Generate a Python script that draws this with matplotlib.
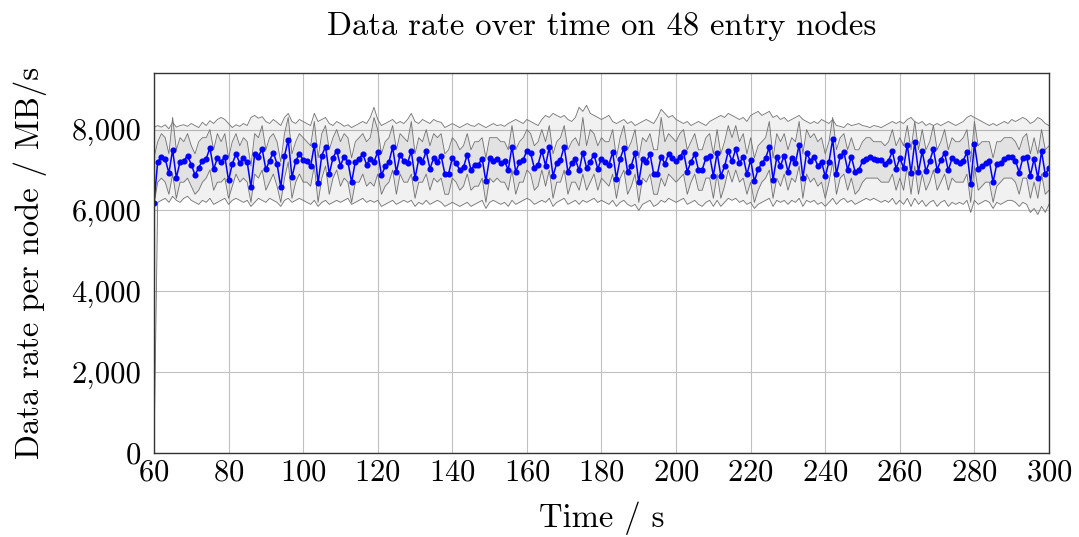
import numpy as np
import matplotlib
matplotlib.use("Agg")
import matplotlib.pyplot as plt
from matplotlib.ticker import FuncFormatter, MultipleLocator

plt.rcParams['font.family'] = 'serif'
plt.rcParams['font.serif'] = ['cmr10']
plt.rcParams['mathtext.fontset'] = 'cm'
plt.rcParams['axes.formatter.use_mathtext'] = True

# Zeitachse (eine Messung pro Sekunde)
t_start, t_end = 60, 300

# Mittlere Datenrate pro Knoten (MB/s)
mean_rate = [
    6180, 7210, 7317, 7276, 6922, 7498, 6807, 7210, 7235, 7350,
    7136, 6881, 7054, 7235, 7276, 7547, 7021, 7292, 7202, 7333,
    6741, 7152, 7399, 7169, 7300, 7194, 6576, 7399, 7333, 7523,
    7013, 7235, 7432, 7152, 6576, 7350, 7745, 6823, 7218, 7399,
    7251, 7218, 7087, 7622, 6675, 7358, 7580, 6905, 7300, 7482,
    7111, 7333, 7202, 6700, 7210, 7276, 7399, 7136, 7276, 7194,
    7457, 6872, 7087, 7194, 7564, 6947, 7383, 7218, 7177, 7465,
    6799, 7268, 7194, 7465, 7029, 7300, 7210, 7350, 6905, 6905,
    7300, 7169, 7004, 7070, 7383, 7004, 7136, 7136, 7284, 6724,
    7300, 7235, 7276, 7185, 7218, 7004, 7580, 6955, 7194, 7251,
    7482, 7416, 7045, 7136, 7482, 7111, 7564, 6856, 7169, 7251,
    7580, 6947, 7169, 7268, 6988, 7432, 7054, 7210, 7383, 7029,
    7284, 7194, 7136, 7440, 6782, 7276, 7547, 6955, 7111, 7416,
    6700, 7276, 7194, 7399, 6905, 6905, 7333, 7152, 7399, 7300,
    7218, 7333, 7449, 6963, 7202, 7399, 7004, 7004, 7300, 7358,
    6856, 7424, 6856, 7087, 7465, 7218, 7523, 7169, 7333, 6889,
    7251, 6716, 7021, 7169, 7292, 7564, 6757, 7317, 7103, 7358,
    6963, 7300, 7169, 7630, 6807, 7424, 7235, 7333, 7103, 7202,
    6840, 7202, 7761, 6889, 7341, 7440, 7004, 7333, 6955, 7004,
    7218, 7276, 7317, 7276, 7251, 7251, 7152, 7235, 7465, 7037,
    7292, 7054, 7630, 6922, 7687, 6955, 7465, 6971, 7218, 7515,
    7004, 7251, 7424, 6988, 7292, 7235, 7169, 7235, 7440, 6659,
    7646, 7021, 7111, 7169, 7218, 6700, 7152, 7169, 7276, 7317,
    7317, 7235, 6938, 7300, 7333, 6864, 7276, 6807, 7465, 6889,
    7054,
]

# Maximum ueber alle Knoten
max_rate = [
    8050, 8100, 8060, 8120, 8020, 8180, 8060, 8100, 8120, 8080,
    8150, 8100, 8050, 8180, 8100, 8220, 8150, 8250, 8300, 8250,
    8150, 8050, 8120, 8080, 8150, 8100, 8300, 8350, 8280, 8320,
    8200, 8150, 8250, 8180, 8100, 8300, 8400, 8200, 8150, 8250,
    8200, 8150, 8100, 8400, 8200, 8250, 8300, 8150, 8100, 8200,
    8150, 8080, 8120, 8050, 8100, 8150, 8200, 8150, 8300, 8550,
    8250, 8100, 8150, 8200, 8250, 8150, 8200, 8150, 8250, 8400,
    8200, 8150, 8250, 8200, 8150, 8250, 8200, 8180, 8050, 8100,
    8150, 8100, 8050, 8100, 8150, 8100, 8080, 8150, 8100, 8050,
    8100, 8150, 8100, 8120, 8080, 8150, 8200, 8250, 8200, 8150,
    8250, 8200, 8150, 8100, 8250, 8350, 8300, 8400, 8350, 8300,
    8350, 8250, 8200, 8300, 8550, 8450, 8600, 8400, 8350, 8300,
    8250, 8300, 8350, 8200, 8150, 8200, 8250, 8150, 8200, 8100,
    8150, 8200, 8250, 8200, 8150, 8300, 8500, 8400, 8300, 8350,
    8250, 8200, 8150, 8200, 8100, 8150, 8200, 8150, 8100, 8200,
    8250, 8300, 8350, 8300, 8400, 8350, 8300, 8250, 8300, 8200,
    8350, 8400, 8450, 8350, 8400, 8450, 8300, 8350, 8250, 8300,
    8200, 8250, 8300, 8350, 8250, 8200, 8150, 8200, 8150, 8250,
    8200, 8150, 8250, 8100, 8080, 8050, 8150, 8100, 8120, 8150,
    8100, 8080, 8050, 8100, 8080, 8050, 8100, 8150, 8200, 8150,
    8200, 8150, 8250, 8300, 8200, 8150, 8200, 8100, 8150, 8100,
    8150, 8100, 8150, 8200, 8150, 8100, 8150, 8200, 8300, 8350,
    8300, 8250, 8200, 8150, 8100, 8150, 8100, 8150, 8200, 8150,
    8250, 8200, 8250, 8300, 8250, 8150, 8200, 8300, 8250, 8150,
    8100,
]

# Minimum ueber alle Knoten
min_rate = [
    0, 6200, 6250, 6300, 6200, 6350, 6250, 6200, 6300, 6350,
    6250, 6200, 6150, 6250, 6200, 6300, 6150, 6200, 6250, 6300,
    6150, 6250, 6300, 6250, 6200, 6250, 6100, 6200, 6300, 6250,
    6200, 6300, 6250, 6200, 6100, 6250, 6300, 6200, 6250, 6300,
    6250, 6200, 6150, 6250, 6100, 6200, 6250, 6150, 6200, 6250,
    6200, 6250, 6300, 6150, 6200, 6250, 6300, 6200, 6250, 6200,
    6250, 6100, 6150, 6200, 6250, 6150, 6200, 6250, 6200, 6250,
    6100, 6200, 6150, 6250, 6150, 6200, 6250, 6200, 6100, 6150,
    6200, 6150, 6100, 6150, 6200, 6100, 6150, 6200, 6250, 6050,
    6200, 6250, 6200, 6150, 6200, 6100, 6250, 6150, 6200, 6250,
    6300, 6250, 6150, 6200, 6250, 6200, 6300, 6100, 6200, 6250,
    6300, 6150, 6200, 6250, 6150, 6250, 6200, 6250, 6300, 6200,
    6250, 6200, 6150, 6250, 6100, 6200, 6250, 6150, 6100, 6150,
    6000, 6150, 6200, 6250, 6100, 6150, 6250, 6200, 6300, 6250,
    6200, 6250, 6300, 6150, 6200, 6250, 6150, 6100, 6200, 6250,
    6100, 6250, 6100, 6200, 6300, 6250, 6300, 6200, 6250, 6150,
    6200, 6050, 6150, 6200, 6250, 6300, 6100, 6250, 6200, 6250,
    6150, 6250, 6200, 6300, 6100, 6250, 6200, 6250, 6150, 6200,
    6100, 6200, 6300, 6150, 6250, 6300, 6200, 6250, 6150, 6200,
    6250, 6300, 6250, 6300, 6250, 6200, 6250, 6200, 6300, 6150,
    6250, 6150, 6300, 6100, 6300, 6150, 6250, 6100, 6200, 6250,
    6100, 6200, 6250, 6100, 6200, 6150, 6200, 6150, 6250, 5950,
    6250, 6150, 6200, 6250, 6200, 6050, 6200, 6150, 6200, 6250,
    6250, 6200, 6100, 6200, 6150, 5950, 6050, 5900, 6100, 5950,
    6150,
]

# inneres Band, obere Grenze
upper_rate = [
    7300, 7700, 7900, 7800, 7400, 8300, 7500, 7800, 7700, 7900,
    7600, 7400, 7700, 7800, 7800, 8000, 7500, 7900, 7700, 7900,
    7300, 7700, 7900, 7600, 7800, 7700, 7100, 7900, 7800, 8100,
    7500, 7800, 7900, 7700, 7200, 7900, 8300, 7400, 7700, 7900,
    7800, 7700, 7600, 8200, 7300, 7900, 8100, 7500, 7800, 8000,
    7700, 7900, 7800, 7300, 7700, 7800, 7900, 7700, 7800, 8300,
    8000, 7400, 7700, 7800, 8100, 7500, 7900, 7800, 7700, 8200,
    7400, 7800, 7700, 8000, 7600, 7900, 7800, 7900, 7400, 7500,
    7800, 7700, 7500, 7600, 7900, 7500, 7700, 7700, 7800, 7300,
    7800, 7800, 7800, 7700, 7700, 7500, 8100, 7500, 7700, 7800,
    8000, 7900, 7600, 7700, 8000, 7700, 8100, 7400, 7700, 7800,
    8100, 7500, 7700, 7800, 7600, 8300, 7600, 8000, 7900, 7600,
    7800, 7700, 7700, 8000, 7300, 7800, 8100, 7500, 7700, 8000,
    7300, 7800, 7700, 7900, 7500, 7500, 8300, 7700, 7900, 7800,
    7700, 7900, 8000, 7500, 7700, 7900, 7500, 7500, 7800, 7900,
    7400, 8000, 7400, 7700, 8100, 7800, 8100, 7700, 7900, 7400,
    7800, 7300, 7600, 7700, 7800, 8200, 7300, 7900, 7700, 7900,
    7500, 7800, 7700, 8200, 7400, 8000, 7800, 7900, 7700, 7800,
    7400, 7700, 8300, 7500, 7800, 7900, 7500, 7800, 7500, 7500,
    7700, 7800, 7800, 7700, 7700, 7700, 7600, 7700, 8000, 7600,
    7800, 7600, 8100, 7500, 8200, 7500, 8000, 7500, 7700, 8100,
    7500, 7700, 8000, 7500, 7800, 7700, 7700, 7800, 8000, 7200,
    8200, 7600, 7700, 7700, 7700, 7300, 7700, 7700, 7800, 7800,
    7800, 7700, 7500, 7800, 7900, 7400, 7800, 7400, 8000, 7500,
    7600,
]

# inneres Band, untere Grenze
lower_rate = [
    6150, 6700, 6800, 6700, 6400, 6900, 6300, 6700, 6700, 6800,
    6600, 6400, 6500, 6700, 6800, 7000, 6500, 6700, 6700, 6800,
    6300, 6600, 6900, 6700, 6800, 6700, 6200, 6900, 6800, 7000,
    6500, 6700, 6900, 6600, 6200, 6800, 7200, 6300, 6700, 6900,
    6700, 6700, 6600, 7100, 6200, 6800, 7100, 6400, 6800, 7000,
    6600, 6800, 6700, 6200, 6700, 6700, 6900, 6600, 6700, 6600,
    6900, 6400, 6600, 6700, 7000, 6400, 6900, 6700, 6700, 6900,
    6300, 6700, 6700, 6900, 6500, 6800, 6700, 6800, 6400, 6400,
    6800, 6700, 6500, 6600, 6900, 6500, 6600, 6600, 6800, 6200,
    6800, 6700, 6800, 6700, 6700, 6500, 7000, 6400, 6700, 6700,
    7000, 6900, 6500, 6600, 7000, 6600, 7000, 6300, 6700, 6700,
    7000, 6400, 6700, 6700, 6500, 6900, 6500, 6700, 6900, 6500,
    6800, 6700, 6600, 6900, 6300, 6800, 7000, 6400, 6600, 6900,
    6200, 6800, 6700, 6900, 6400, 6400, 6800, 6600, 6900, 6800,
    6700, 6800, 6900, 6400, 6700, 6900, 6500, 6500, 6800, 6800,
    6300, 6900, 6300, 6600, 7000, 6700, 7000, 6700, 6800, 6400,
    6700, 6200, 6500, 6700, 6800, 7000, 6300, 6800, 6600, 6900,
    6500, 6800, 6700, 7100, 6300, 6900, 6700, 6800, 6600, 6700,
    6300, 6700, 7200, 6400, 6800, 6900, 6500, 6800, 6400, 6500,
    6700, 6800, 6800, 6800, 6800, 6700, 6700, 6700, 6900, 6500,
    6800, 6500, 7100, 6400, 7100, 6400, 6900, 6500, 6700, 7000,
    6500, 6700, 6900, 6500, 6800, 6700, 6700, 6700, 6900, 6200,
    7100, 6500, 6600, 6700, 6700, 6200, 6600, 6700, 6800, 6800,
    6800, 6700, 6400, 6800, 6800, 6300, 6700, 6300, 6900, 6400,
    6500,
]

time = np.arange(t_start, t_end + 1)

fig = plt.figure(figsize=(10.79, 5.37), dpi=100)
ax = fig.add_axes([0.1427, 0.1564, 0.8295, 0.7077])

ax.fill_between(time, min_rate, max_rate, color='black', alpha=0.055, linewidth=0)
ax.fill_between(time, lower_rate, upper_rate, color='black', alpha=0.06, linewidth=0)
for s in [min_rate, max_rate, lower_rate, upper_rate]:
    ax.plot(time, s, color='#707070', linewidth=0.6)

ax.plot(time, mean_rate, color='#0000ff', linewidth=1.1, marker='o', markersize=3.4)

ax.set_xlim(t_start, t_end)
ax.set_ylim(0, 9400)
ax.xaxis.set_major_locator(MultipleLocator(20))
ax.yaxis.set_major_locator(MultipleLocator(2000))
ax.yaxis.set_major_formatter(FuncFormatter(lambda v, p: f'{int(v):,}'))
ax.set_axisbelow(True)
ax.grid(True, color='#c0c0c0', linewidth=0.8)
ax.tick_params(length=0, labelsize=22)
ax.tick_params(axis='x', pad=4)
ax.tick_params(axis='y', pad=9)
for sp in ax.spines.values():
    sp.set_linewidth(1.0)
    sp.set_color('#333333')

ax.set_title('Data rate over time on 48 entry nodes', fontsize=23.5, pad=27)
ax.set_xlabel('Time / s', fontsize=23.5, labelpad=11)
ax.set_ylabel('Data rate per node / MB/s', fontsize=23.5, labelpad=18)

fig.savefig('out.png', dpi=100)
